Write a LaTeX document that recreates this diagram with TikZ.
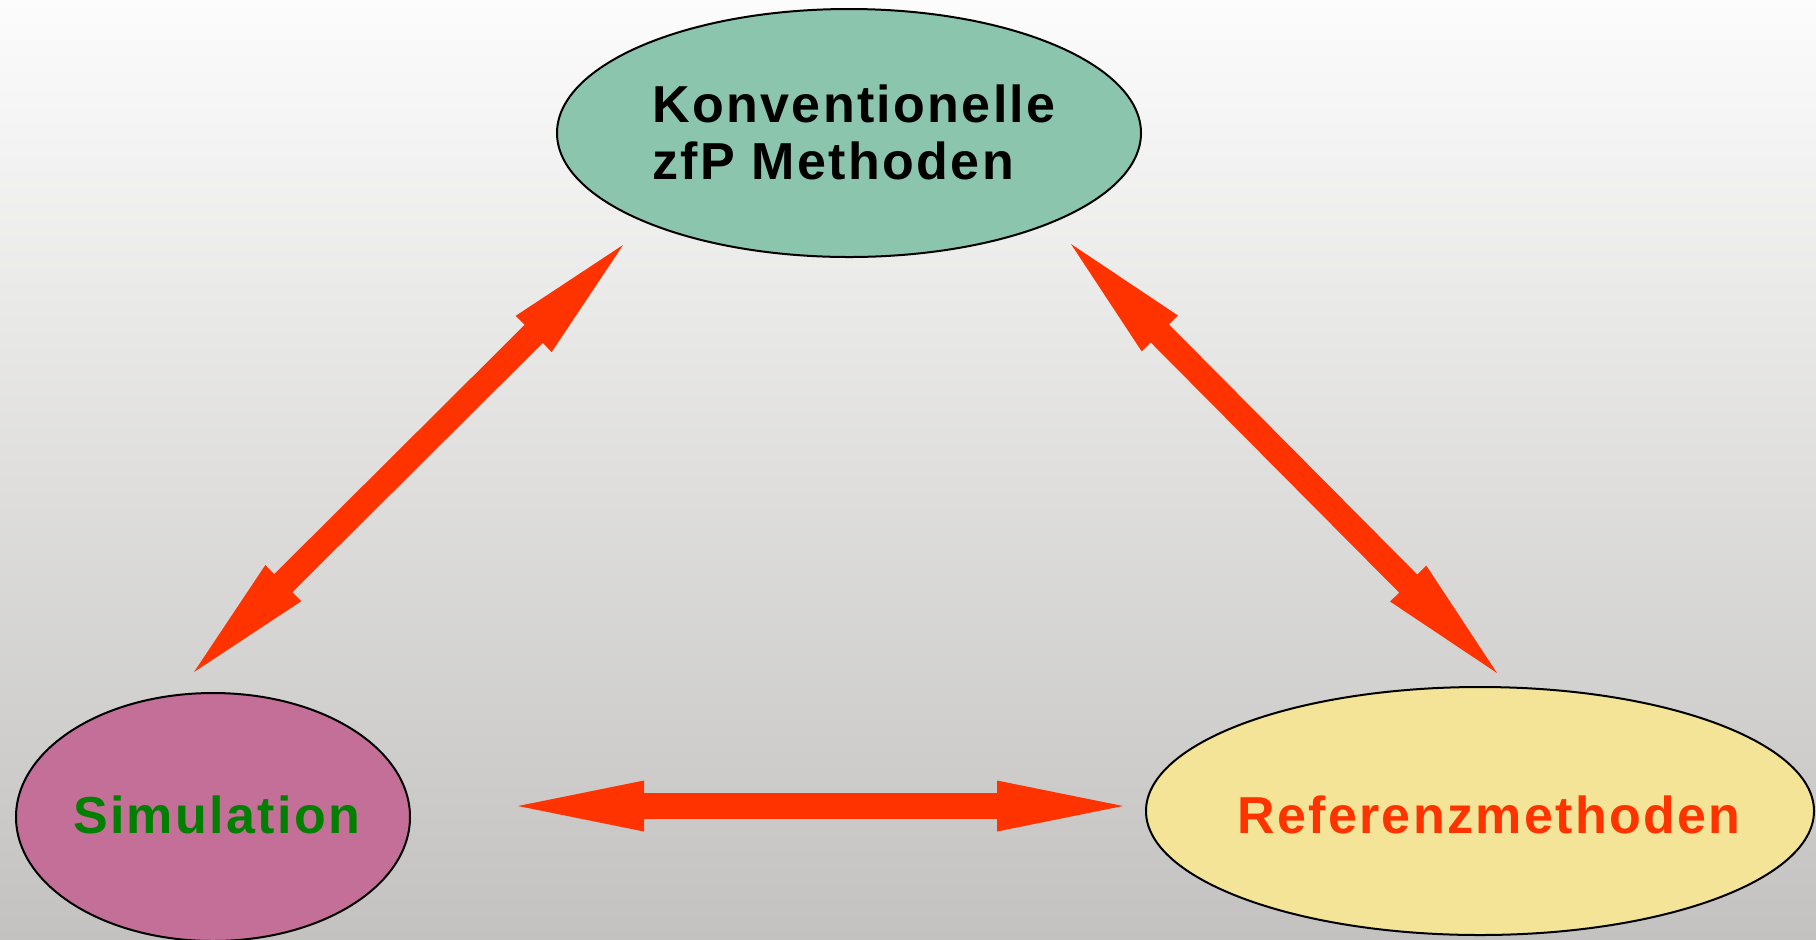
\documentclass[tikz,border=0pt]{standalone}
\usepackage{fontspec}
\usetikzlibrary{shapes.geometric,calc}
\newfontfamily\labelfont[LetterSpace=4.5]{Liberation Sans}

\definecolor{konvfill}{HTML}{8CC5AD}
\definecolor{simfill}{HTML}{C46F97}
\definecolor{reffill}{HTML}{F3E497}
\definecolor{simtext}{HTML}{008000}
\definecolor{arrowred}{HTML}{FF3300}
\definecolor{bgtop}{HTML}{FCFCFC}
\definecolor{bgbottom}{HTML}{C3C2C0}

\tikzset{
  blob/.style={ellipse, draw=black, line width=1pt, inner sep=0pt},
  blobtext/.style={font=\labelfont\bfseries\fontsize{26}{28.5}\selectfont, inner sep=0pt, align=left},
  twoway/.style={fill=arrowred, draw=none}
}

% block arrow with a head at both ends, from #1 to #2
\newcommand\headlen{63pt}
\newcommand\headhalf{12.75pt}
\newcommand\shafthalf{6.4pt}
\newcommand\twowayarrow[2]{%
  \path[twoway] (#1)
    -- ($(#1)!\headlen!(#2)!\headhalf!90:(#2)$)
    -- ($(#1)!\headlen!(#2)!\shafthalf!90:(#2)$)
    -- ($(#2)!\headlen!(#1)!\shafthalf!-90:(#1)$)
    -- ($(#2)!\headlen!(#1)!\headhalf!-90:(#1)$)
    -- (#2)
    -- ($(#2)!\headlen!(#1)!\headhalf!90:(#1)$)
    -- ($(#2)!\headlen!(#1)!\shafthalf!90:(#1)$)
    -- ($(#1)!\headlen!(#2)!\shafthalf!-90:(#2)$)
    -- ($(#1)!\headlen!(#2)!\headhalf!-90:(#2)$)
    -- cycle;}

\begin{document}
\begin{tikzpicture}[x=0.5pt, y=-0.5pt]
  % background with a soft vertical gradient
  \shade[top color=bgtop, bottom color=bgbottom] (0,0) rectangle (1816,939);
  \useasboundingbox (0,0) rectangle (1816,939);

  % the three method groups
  \node[blob, fill=konvfill, minimum width=292pt, minimum height=124pt] (konv) at (849,133) {};
  \node[blob, fill=simfill, minimum width=197pt, minimum height=124pt] (sim) at (213,817) {};
  \node[blob, fill=reffill, minimum width=334pt, minimum height=124pt] (ref) at (1480,811) {};

  \node[blobtext, text=black] (konvtext) at (854,132.5) {Konventionelle\\zfP Methoden};
  \node[blobtext, text=simtext] (simtext) at (216.5,814.5) {Simulation};
  \node[blobtext, text=arrowred] (reftext) at (1489,815) {Referenzmethoden};

  % arrow end points
  \coordinate (ks) at (623,245);
  \coordinate (sk) at (194,672);
  \coordinate (kr) at (1071,244);
  \coordinate (rk) at (1497,673);
  \coordinate (sr) at (518,806);
  \coordinate (rs) at (1123,806);

  % two-way relations
  \twowayarrow{sk}{ks}
  \twowayarrow{kr}{rk}
  \twowayarrow{sr}{rs}
\end{tikzpicture}
\end{document}
